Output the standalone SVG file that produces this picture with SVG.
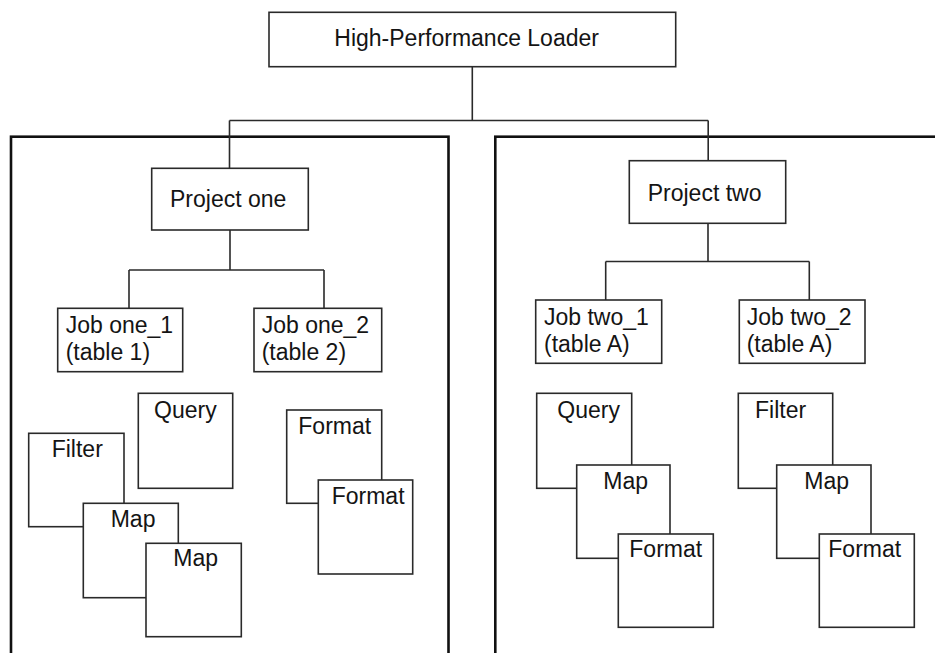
<svg xmlns="http://www.w3.org/2000/svg" width="935" height="653" viewBox="0 0 935 653">
<style>
  .bg { fill: #ffffff; }
  .frame { fill: none; stroke: #111111; stroke-width: 2.6; }
  .box { fill: #ffffff; stroke: #2a2a2a; stroke-width: 1.6; }
  .conn { fill: none; stroke: #2a2a2a; stroke-width: 1.6; }
  .lbl { font-family: "Liberation Sans", Arial, Helvetica, sans-serif; font-size: 23px; fill: #141414; }
</style>
<rect class="bg" x="0" y="0" width="935" height="653"/>

<g id="frame-project-one">
  <rect class="frame" x="11" y="136.7" width="437.5" height="580"/>
</g>
<g id="frame-project-two">
  <rect class="frame" x="495.3" y="136.7" width="480" height="580"/>
</g>

<g id="connectors">
  <path class="conn" d="M472.3 67 V120.5 M229.5 120.5 H708.2 M229.5 120.5 V168.3 M708.2 120.5 V160.7"/>
  <path class="conn" d="M230 230 V270 M129 270 H324 M129 270 V308.3 M324 270 V308.3"/>
  <path class="conn" d="M708 223.3 V261.5 M605.7 261.5 H809.3 M605.7 261.5 V300 M809.3 261.5 V300"/>
</g>

<g id="hpl">
  <rect class="box" x="269" y="12.3" width="406.7" height="54.4"/>
  <text class="lbl" x="334.3" y="45.5">High-Performance Loader</text>
</g>

<g id="project-one">
  <rect class="box" x="151.7" y="168.3" width="156.6" height="61.7"/>
  <text class="lbl" x="170" y="207">Project one</text>
</g>
<g id="project-two">
  <rect class="box" x="629.3" y="160.7" width="156.4" height="62.6"/>
  <text class="lbl" x="647.7" y="201.3">Project two</text>
</g>

<g id="job-one-1">
  <rect class="box" x="57.7" y="308.3" width="125" height="63.4"/>
  <text class="lbl" x="65.7" y="332.5">Job one_1</text>
  <text class="lbl" x="65.7" y="359.5">(table 1)</text>
</g>
<g id="job-one-2">
  <rect class="box" x="254" y="308.3" width="127.7" height="63.4"/>
  <text class="lbl" x="261.7" y="332.5">Job one_2</text>
  <text class="lbl" x="261.7" y="359.5">(table 2)</text>
</g>
<g id="job-two-1">
  <rect class="box" x="535.7" y="300" width="126" height="63.3"/>
  <text class="lbl" x="544" y="324.5">Job two_1</text>
  <text class="lbl" x="544" y="351.5">(table A)</text>
</g>
<g id="job-two-2">
  <rect class="box" x="739.3" y="300" width="125.7" height="63.3"/>
  <text class="lbl" x="746.7" y="324.5">Job two_2</text>
  <text class="lbl" x="746.7" y="351.5">(table A)</text>
</g>

<!-- Project one operators -->
<g id="p1-query">
  <rect class="box" x="138.3" y="393.3" width="94.4" height="95"/>
  <text class="lbl" x="154" y="418">Query</text>
</g>
<g id="p1-filter">
  <rect class="box" x="28.7" y="433.3" width="95.3" height="93.4"/>
  <text class="lbl" x="51.7" y="457">Filter</text>
</g>
<g id="p1-map-1">
  <rect class="box" x="83.3" y="503.3" width="95" height="94.4"/>
  <text class="lbl" x="110.7" y="527">Map</text>
</g>
<g id="p1-map-2">
  <rect class="box" x="146" y="543.3" width="95.3" height="93.4"/>
  <text class="lbl" x="173.3" y="566">Map</text>
</g>
<g id="p1-format-1">
  <rect class="box" x="286.7" y="410" width="95" height="93.3"/>
  <text class="lbl" x="298.3" y="433.5">Format</text>
</g>
<g id="p1-format-2">
  <rect class="box" x="318.3" y="480" width="94.4" height="94"/>
  <text class="lbl" x="331.7" y="503.5">Format</text>
</g>

<!-- Project two operators -->
<g id="p2-query">
  <rect class="box" x="536.7" y="393.3" width="95" height="95"/>
  <text class="lbl" x="557.3" y="417.5">Query</text>
</g>
<g id="p2-map-1">
  <rect class="box" x="576.7" y="465" width="93.3" height="93.3"/>
  <text class="lbl" x="603.3" y="488.5">Map</text>
</g>
<g id="p2-format-1">
  <rect class="box" x="618.3" y="534" width="95" height="93.3"/>
  <text class="lbl" x="629.3" y="557">Format</text>
</g>
<g id="p2-filter">
  <rect class="box" x="738.3" y="393.3" width="94.4" height="95"/>
  <text class="lbl" x="755" y="417.5">Filter</text>
</g>
<g id="p2-map-2">
  <rect class="box" x="776.7" y="465" width="94.3" height="93.3"/>
  <text class="lbl" x="804.3" y="488.5">Map</text>
</g>
<g id="p2-format-2">
  <rect class="box" x="819.3" y="534" width="95" height="93.3"/>
  <text class="lbl" x="828.3" y="557">Format</text>
</g>
</svg>
